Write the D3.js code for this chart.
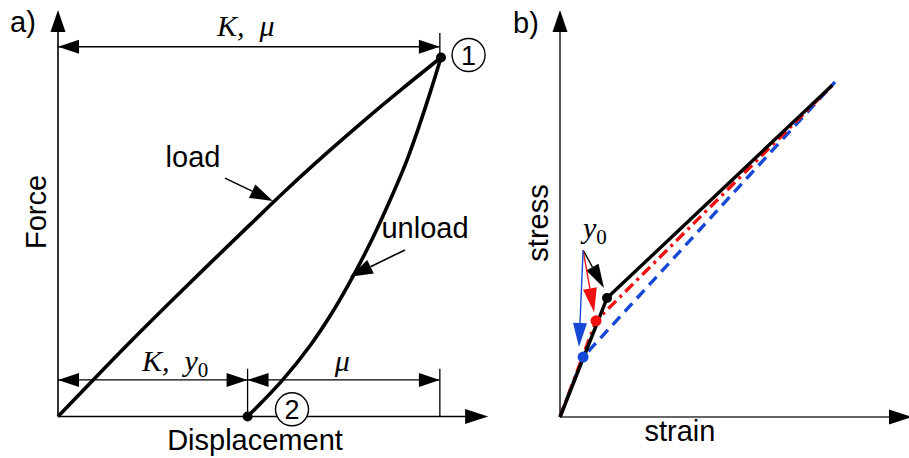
<!DOCTYPE html>
<html>
<head>
<meta charset="utf-8">
<script src="https://cdn.jsdelivr.net/npm/d3@7"></script>
<style>
  body { margin: 0; background: #fff; }
  svg { display: block; }
  .sans { font-family: "Liberation Sans", Arial, sans-serif; }
  .math { font-family: "Liberation Serif", "Times New Roman", serif; font-style: italic; }
</style>
</head>
<body>
<div id="chart"></div>
<script>
// panel a: normalised displacement / force
const loadDisp    = [0, 0.1, 0.2, 0.3, 0.4, 0.5, 0.6, 0.7, 0.8, 0.9, 1];
const loadForce   = [0, 0.111, 0.22, 0.326, 0.43, 0.533, 0.635, 0.732, 0.825, 0.914, 1];
const unloadDisp  = [0.495, 0.585, 0.66, 0.722, 0.775, 0.823, 0.866, 0.906, 0.94, 0.971, 1];
const unloadForce = [0, 0.1, 0.2, 0.3, 0.4, 0.5, 0.6, 0.7, 0.8, 0.9, 1];

// panel b: strain / stress, three yield levels
const series = [
  {name: "blue",  color: "#1548d6", dash: "11,7",     strain: [0, 0.084, 1],    stress: [0, 0.179, 1]},
  {name: "red",   color: "#f01010", dash: "11,5,3,5", strain: [0, 0.131, 0.99], stress: [0, 0.287, 0.99]},
  {name: "black", color: "#000",    dash: null,       strain: [0, 0.171, 0.99], stress: [0, 0.355, 0.99]}
];
const y0Label = [0.084, 0.498];
const y0Tips  = [[0.16, 0.385], [0.124, 0.313], [0.069, 0.209]];

const W = 909, H = 458;
const svg = d3.select("#chart").append("svg")
  .attr("width", W).attr("height", H);

const xA = d3.scaleLinear().domain([0, 1]).range([58, 441]);
const yA = d3.scaleLinear().domain([0, 1]).range([416.5, 57.5]);
const xB = d3.scaleLinear().domain([0, 1]).range([560, 835]);
const yB = d3.scaleLinear().domain([0, 1]).range([417, 82]);

function head(g, x, y, ang, color, len, w) {
  const bx = x - len * Math.cos(ang), by = y - len * Math.sin(ang);
  const px = -Math.sin(ang) * w / 2, py = Math.cos(ang) * w / 2;
  g.append("path")
    .attr("d", `M${x},${y}L${bx + px},${by + py}L${bx - px},${by - py}Z`)
    .attr("fill", color);
}

function arrow(g, x1, y1, x2, y2, color, len, w, sw) {
  const ang = Math.atan2(y2 - y1, x2 - x1);
  g.append("line")
    .attr("x1", x1).attr("y1", y1)
    .attr("x2", x2 - len * Math.cos(ang)).attr("y2", y2 - len * Math.sin(ang))
    .attr("stroke", color).attr("stroke-width", sw);
  head(g, x2, y2, ang, color, len, w);
}

function dimLine(g, xa, xb, y) {
  g.append("line").attr("x1", xa).attr("x2", xb).attr("y1", y).attr("y2", y)
    .attr("stroke", "#000").attr("stroke-width", 1.3);
  head(g, xa, y, Math.PI, "#000", 21, 14);
  head(g, xb, y, 0, "#000", 21, 14);
}

function mathLabel(g, x, y, parts, anchor) {
  const t = g.append("text").attr("class", "math")
    .attr("x", x).attr("y", y).attr("font-size", 30)
    .attr("text-anchor", anchor || "middle");
  parts.forEach(p => {
    const s = t.append("tspan").text(p.t);
    if (p.sub) s.attr("font-style", "normal").attr("font-size", 21).attr("dy", 6);
  });
  return t;
}

// ---------- panel a ----------
const ga = svg.append("g");

// axes
ga.append("line").attr("x1", xA(0)).attr("x2", xA(1.08)).attr("y1", yA(0)).attr("y2", yA(0))
  .attr("stroke", "#000").attr("stroke-width", 1.6);
head(ga, xA(1.123), yA(0), 0, "#000", 23, 15);
ga.append("line").attr("x1", xA(0)).attr("x2", xA(0)).attr("y1", yA(0)).attr("y2", yA(1.08))
  .attr("stroke", "#000").attr("stroke-width", 1.6);
head(ga, xA(0), yA(1.132), -Math.PI / 2, "#000", 22, 15);

// dimension lines
ga.append("line").attr("x1", xA(0.997)).attr("x2", xA(0.997)).attr("y1", yA(1.0)).attr("y2", yA(1.068))
  .attr("stroke", "#000").attr("stroke-width", 1.3);
dimLine(ga, xA(0), xA(0.997), yA(1.03));
[0.495, 0.997].forEach(d => {
  ga.append("line").attr("x1", xA(d)).attr("x2", xA(d)).attr("y1", yA(0)).attr("y2", yA(0.133))
    .attr("stroke", "#000").attr("stroke-width", 1.3);
});
dimLine(ga, xA(0), xA(0.495), yA(0.102));
dimLine(ga, xA(0.495), xA(0.997), yA(0.102));

mathLabel(ga, xA(0.49), yA(1.06), [{t: "K,\u2002\u03bc"}]);
mathLabel(ga, xA(0.306), yA(0.126), [{t: "K,\u2002y"}, {t: "0", sub: true}]);
mathLabel(ga, xA(0.742), yA(0.126), [{t: "\u03bc"}]);

// curves
const lineA = d3.line().x(d => xA(d[0])).y(d => yA(d[1])).curve(d3.curveCatmullRom);
ga.append("path").datum(d3.zip(loadDisp, loadForce))
  .attr("d", lineA).attr("fill", "none").attr("stroke", "#000").attr("stroke-width", 3.6);
ga.append("path").datum(d3.zip(unloadDisp, unloadForce))
  .attr("d", lineA).attr("fill", "none").attr("stroke", "#000").attr("stroke-width", 3.6);

// pointer arrows
arrow(ga, xA(0.436), yA(0.664), xA(0.561), yA(0.6), "#000", 23, 15, 1.6);
arrow(ga, xA(0.906), yA(0.464), xA(0.762), yA(0.389), "#000", 23, 15, 1.6);

ga.append("text").attr("class", "sans").attr("x", 193).attr("y", 167)
  .attr("text-anchor", "middle").attr("font-size", 29).text("load");
ga.append("text").attr("class", "sans").attr("x", 425).attr("y", 238)
  .attr("text-anchor", "middle").attr("font-size", 29).text("unload");

// state points
[[1, 1], [0.495, 0]].forEach(p => {
  ga.append("circle").attr("cx", xA(p[0])).attr("cy", yA(p[1])).attr("r", 5).attr("fill", "#000");
});
[{d: 1.072, f: 1.007, t: "1"}, {d: 0.611, f: 0.02, t: "2"}].forEach(c => {
  ga.append("circle").attr("cx", xA(c.d)).attr("cy", yA(c.f)).attr("r", 16.5)
    .attr("fill", "#fff").attr("stroke", "#000").attr("stroke-width", 1.4);
  ga.append("text").attr("class", "sans").attr("x", xA(c.d)).attr("y", yA(c.f) + 10)
    .attr("text-anchor", "middle").attr("font-size", 27).text(c.t);
});

ga.append("text").attr("class", "sans").attr("x", 10).attr("y", 32)
  .attr("font-size", 29).text("a)");
ga.append("text").attr("class", "sans").attr("x", 255).attr("y", 450)
  .attr("text-anchor", "middle").attr("font-size", 29).text("Displacement");
ga.append("text").attr("class", "sans")
  .attr("transform", "translate(46,212) rotate(-90)")
  .attr("text-anchor", "middle").attr("font-size", 29).text("Force");

// ---------- panel b ----------
const gb = svg.append("g");

gb.append("line").attr("x1", xB(0)).attr("x2", xB(1.24)).attr("y1", yB(0)).attr("y2", yB(0))
  .attr("stroke", "#333").attr("stroke-width", 1.6);
head(gb, xB(1.28), yB(0), 0, "#000", 23, 15);
gb.append("line").attr("x1", xB(0)).attr("x2", xB(0)).attr("y1", yB(0)).attr("y2", yB(1.16))
  .attr("stroke", "#555").attr("stroke-width", 2);
head(gb, xB(0), yB(1.215), -Math.PI / 2, "#000", 22, 15);

const lineB = d3.line().x(d => xB(d[0])).y(d => yB(d[1]));
series.forEach(s => {
  gb.append("path").datum(d3.zip(s.strain, s.stress))
    .attr("d", lineB).attr("fill", "none")
    .attr("stroke", s.color).attr("stroke-width", 3.4)
    .attr("stroke-dasharray", s.dash);
});
series.forEach(s => {
  gb.append("circle").attr("cx", xB(s.strain[1])).attr("cy", yB(s.stress[1]))
    .attr("r", s.name === "black" ? 5 : 5.5).attr("fill", s.color);
});

// y0 pointers
["#000", "#f01010", "#1548d6"].forEach((c, i) => {
  arrow(gb, xB(y0Label[0]), yB(y0Label[1]), xB(y0Tips[i][0]), yB(y0Tips[i][1]), c, 24, 14, 1.4);
});
mathLabel(gb, 583, 238, [{t: "y"}, {t: "0", sub: true}], "start");

gb.append("text").attr("class", "sans").attr("x", 513).attr("y", 33)
  .attr("font-size", 29).text("b)");
gb.append("text").attr("class", "sans").attr("x", 680).attr("y", 441)
  .attr("text-anchor", "middle").attr("font-size", 29).text("strain");
gb.append("text").attr("class", "sans")
  .attr("transform", "translate(548,223) rotate(-90)")
  .attr("text-anchor", "middle").attr("font-size", 29).text("stress");
</script>
</body>
</html>
